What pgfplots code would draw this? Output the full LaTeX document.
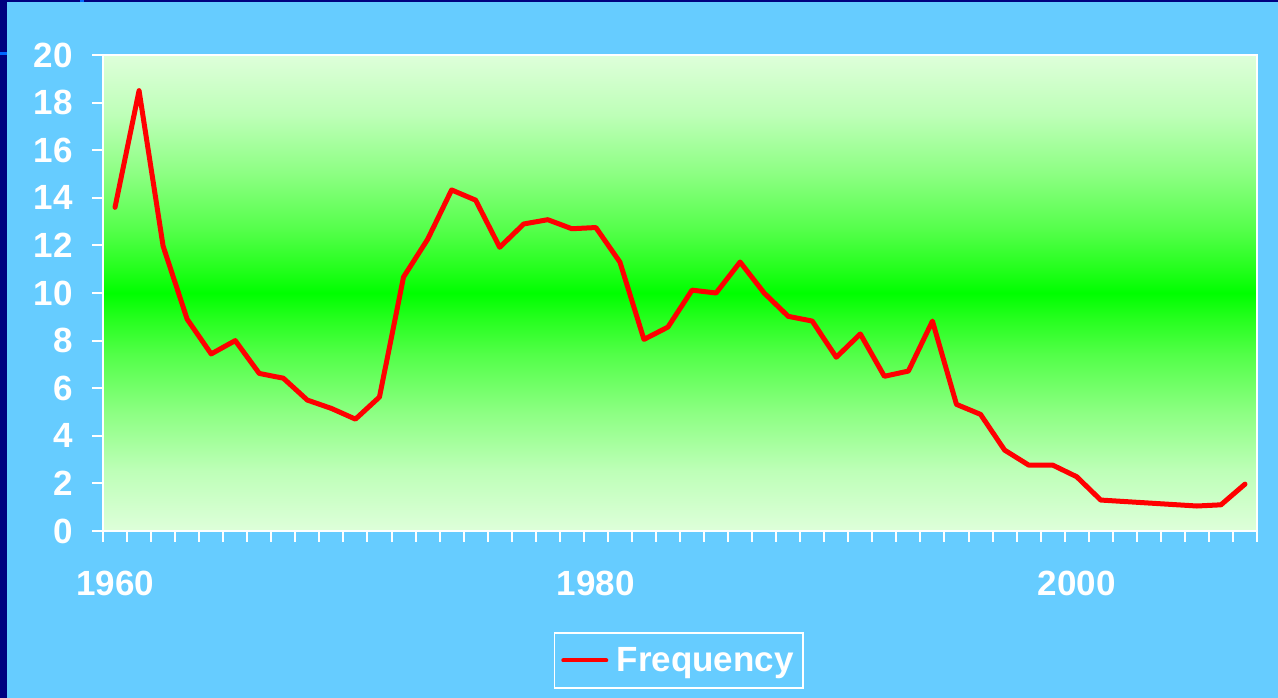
\documentclass[border=0pt]{standalone}
\usepackage{fontspec}
\setmainfont{Liberation Sans}
\usepackage{pgfplots}
\pgfplotsset{compat=1.18}
\definecolor{bgblue}{RGB}{102,204,255}
\definecolor{navy}{RGB}{0,0,128}
\definecolor{markblue}{RGB}{0,102,255}
\definecolor{gl}{RGB}{222,255,218}
\definecolor{g1}{RGB}{190,255,184}
\definecolor{g2}{RGB}{140,255,130}
\definecolor{g3}{RGB}{80,255,70}
\definecolor{g4}{RGB}{35,255,28}
\definecolor{g0}{RGB}{0,255,0}
\pgfdeclareverticalshading{bggreen}{100bp}{color(0bp)=(gl); color(25bp)=(gl); color(31.25bp)=(g1); color(37.5bp)=(g2); color(43.75bp)=(g3); color(47.5bp)=(g4); color(50bp)=(g0); color(52.5bp)=(g4); color(56.25bp)=(g3); color(62.5bp)=(g2); color(68.75bp)=(g1); color(75bp)=(gl); color(100bp)=(gl)}
\newcommand{\bigfont}{\fontsize{35bp}{41bp}\selectfont\bfseries}
\begin{document}
\begin{tikzpicture}
\fill[bgblue] (0,0) rectangle (1278bp,698bp);
\useasboundingbox (0,0) rectangle (1278bp,698bp);
\fill[navy] (0,0) rectangle (7bp,698bp);
\fill[navy] (0,696bp) rectangle (1278bp,698bp);
\fill[markblue] (0,643bp) rectangle (7bp,646bp);
\fill[markblue] (80bp,696bp) rectangle (84bp,698bp);
\begin{axis}[
  at={(103bp,167bp)}, anchor=south west,
  scale only axis, width=1154bp, height=476bp,
  xmin=1959.5, xmax=2007.5, ymin=0, ymax=20,
  axis background/.style={shade, shading=bggreen},
  axis line style={white, line width=1.5bp},
  tick pos=left,
  tick align=outside, major tick length=11bp,
  tick style={white, line width=2bp},
  xtick={1959.5,1960.5,...,2007.5}, xticklabels={},
  extra x ticks={1960,1980,2000}, extra x tick labels={1960,1980,2000},
  extra x tick style={major tick length=0pt},
  ytick={0,2,...,20},
  /pgf/number format/assume math mode=true,
  tick label style={text=white, font=\bigfont},
  xticklabel style={yshift=-37bp},
  yticklabel style={xshift=-16bp},
  legend style={at={(0.4987,-0.272)}, anchor=center, draw=white, line width=1.5bp, fill=none, text=white, font=\bigfont, inner xsep=7bp, inner ysep=12.5bp},
  legend image code/.code={\draw[#1, line width=4bp, line cap=round] (0bp,0bp) -- (43bp,0bp); \path (49bp,0bp);},
]
\addplot[red, line width=5bp, line join=round, line cap=round] coordinates {
(1960,13.6) (1961,18.5) (1962,11.97) (1963,8.9) (1964,7.44) (1965,8.0)
(1966,6.62) (1967,6.42) (1968,5.5) (1969,5.15) (1970,4.7) (1971,5.63)
(1972,10.67) (1973,12.25) (1974,14.33) (1975,13.9) (1976,11.92) (1977,12.9)
(1978,13.08) (1979,12.7) (1980,12.75) (1981,11.3) (1982,8.05) (1983,8.57)
(1984,10.12) (1985,10.0) (1986,11.3) (1987,10.0) (1988,9.02) (1989,8.82)
(1990,7.3) (1991,8.28) (1992,6.5) (1993,6.72) (1994,8.82) (1995,5.32)
(1996,4.9) (1997,3.4) (1998,2.77) (1999,2.77) (2000,2.28) (2001,1.3)
(2005,1.05) (2006,1.1) (2007,1.97)
};
\addlegendentry{Frequency}
\end{axis}
\end{tikzpicture}
\end{document}
